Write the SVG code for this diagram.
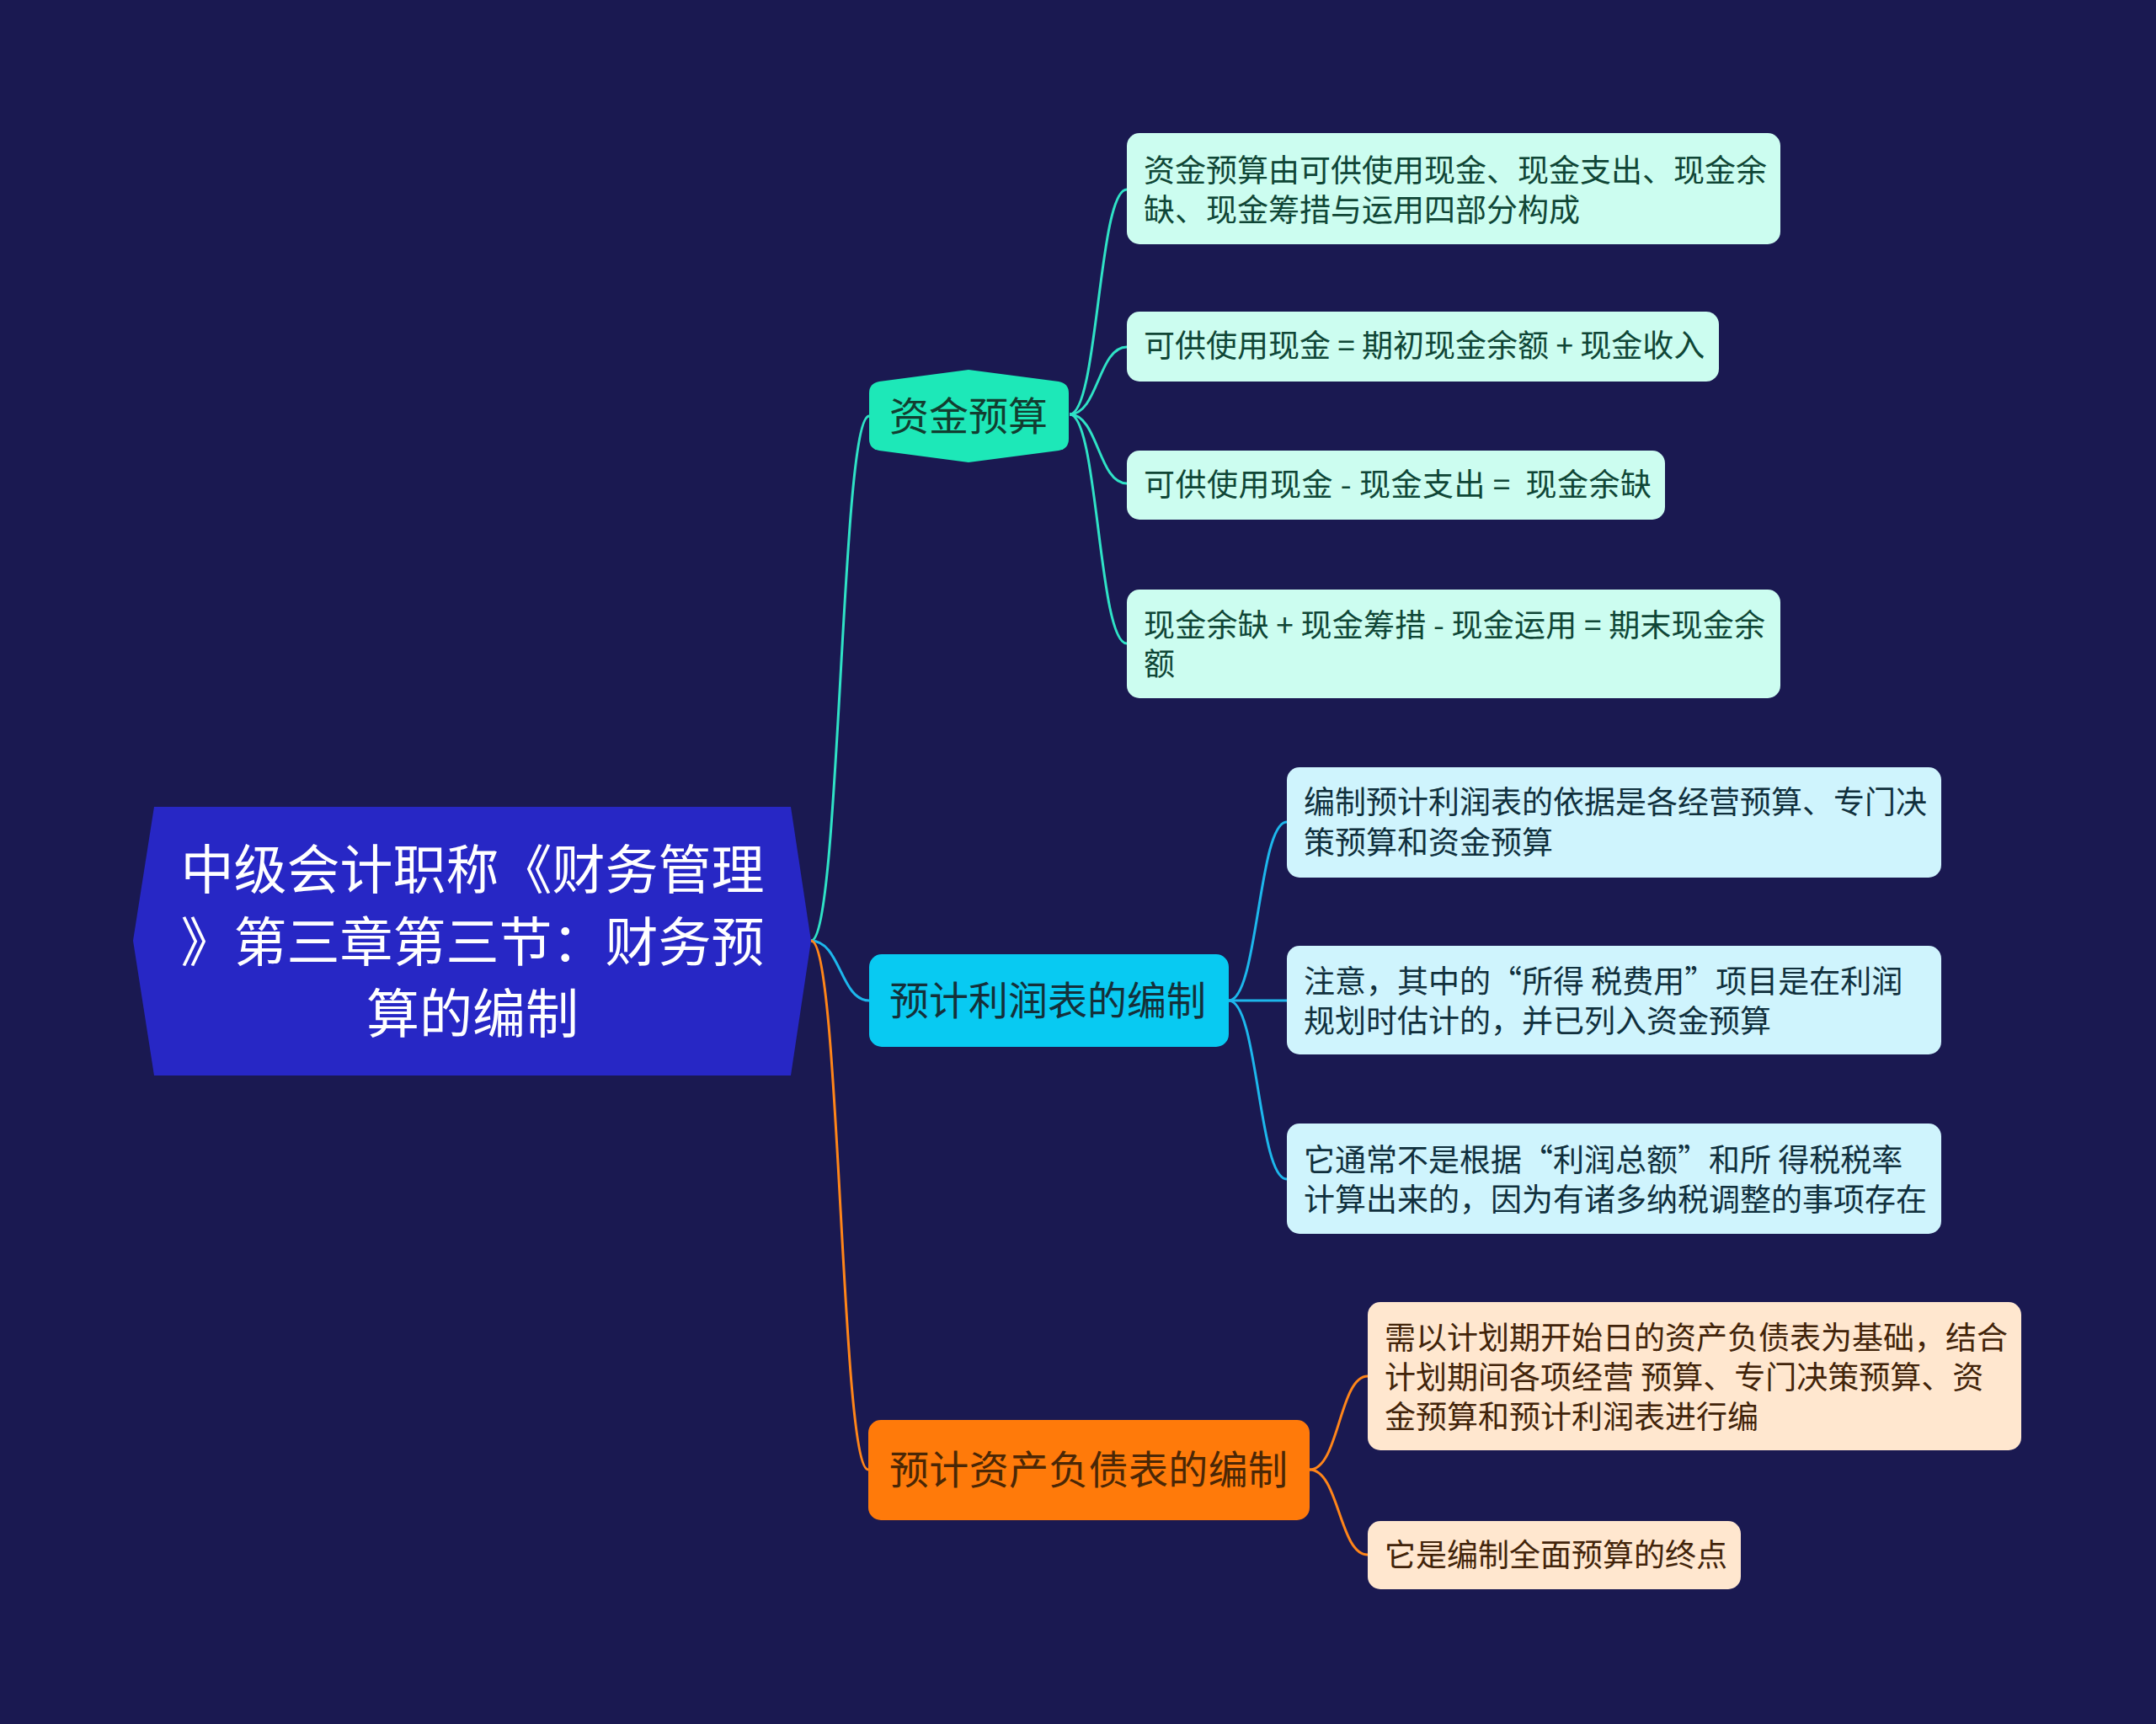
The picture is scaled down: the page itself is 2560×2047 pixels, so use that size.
<svg xmlns="http://www.w3.org/2000/svg" width="2560" height="2047" viewBox="0 0 2560 2047">
<style>
text{font-family:"Noto Sans CJK SC","Noto Sans",sans-serif;}
.root{fill:#ffffff;font-size:63px;text-anchor:middle;}
.l1{font-size:47px;}
.lf{font-size:37px;}
.c{fill:none;stroke-width:3;}
.ct{stroke:#2fe2c6;}
.cb{stroke:#1db7ec;}
.co{stroke:#ff8519;}
.leafT{fill:#ccfdf0;}
.leafB{fill:#cff4fd;}
.leafO{fill:#ffe7cf;}
.txT{fill:#0f4636;}
.txB{fill:#10303d;}
.txO{fill:#42240a;}
</style>
<rect x="0" y="0" width="2560" height="2047" fill="#1a1951"/>
<g id="connectors">
<path class="c ct" d="M963 1117 C998 1117,998 494,1032 494"/>
<path class="c cb" d="M963 1117 C998 1117,998 1188,1032 1188"/>
<path class="c co" d="M963 1117 C998 1117,998 1745,1031 1745"/>
<path class="c ct" d="M1270 492 C1304 492,1304 225,1338 225"/>
<path class="c ct" d="M1270 492 C1304 492,1304 412,1338 412"/>
<path class="c ct" d="M1270 492 C1304 492,1304 574,1338 574"/>
<path class="c ct" d="M1270 492 C1304 492,1304 764,1338 764"/>
<path class="c cb" d="M1459 1188 C1494 1188,1494 976,1528 976"/>
<path class="c cb" d="M1459 1188 L1528 1188"/>
<path class="c cb" d="M1459 1188 C1494 1188,1494 1400,1528 1400"/>
<path class="c co" d="M1555 1745 C1590 1745,1590 1634,1624 1634"/>
<path class="c co" d="M1555 1745 C1590 1745,1590 1846,1624 1846"/>
</g>
<g id="root">
<polygon points="158,1117 183,958 939,958 963,1117 939,1277 183,1277" fill="#2727c5"/>
<text class="root"><tspan x="561" y="1055">中级会计职称《财务管理</tspan><tspan x="561" y="1141">》第三章第三节：财务预</tspan><tspan x="561" y="1226">算的编制</tspan></text>
</g>
<g id="n1">
<path d="M1044 453 L1150 439 L1257 453 Q1269 455 1269 467 L1269 521 Q1269 533 1257 535 L1150 549 L1044 535 Q1032 533 1032 521 L1032 467 Q1032 455 1044 453 Z" fill="#1de8b8"/>
<text class="l1" x="1056" y="511" fill="#123d30">资金预算</text>
</g>
<g id="n2">
<rect x="1032" y="1133" width="427" height="110" rx="15" fill="#08caf2"/>
<text class="l1" x="1056" y="1205" fill="#14303a">预计利润表的编制</text>
</g>
<g id="n3">
<rect x="1031" y="1686" width="524" height="119" rx="15" fill="#ff7a0a"/>
<text class="l1" x="1056" y="1762" fill="#4a2706" textLength="473" lengthAdjust="spacing">预计资产负债表的编制</text>
</g>
<g id="n1a">
<rect x="1338" y="158" width="776" height="132" rx="15" class="leafT"/>
<text class="lf txT"><tspan x="1358" y="216">资金预算由可供使用现金、现金支出、现金余</tspan><tspan x="1358" y="263">缺、现金筹措与运用四部分构成</tspan></text>
</g>
<g id="n1b">
<rect x="1338" y="370" width="703" height="83" rx="15" class="leafT"/>
<text class="lf txT" x="1358" y="424" xml:space="preserve">可供使用现金 = 期初现金余额 + 现金收入</text>
</g>
<g id="n1c">
<rect x="1338" y="535" width="639" height="82" rx="15" class="leafT"/>
<text class="lf txT" x="1358" y="589" xml:space="preserve" textLength="603" lengthAdjust="spacing">可供使用现金 - 现金支出 =  现金余缺</text>
</g>
<g id="n1d">
<rect x="1338" y="700" width="776" height="129" rx="15" class="leafT"/>
<text class="lf txT" xml:space="preserve"><tspan x="1358" y="756" textLength="738" lengthAdjust="spacing">现金余缺 + 现金筹措 - 现金运用 = 期末现金余</tspan><tspan x="1358" y="802">额</tspan></text>
</g>
<g id="n2a">
<rect x="1528" y="911" width="777" height="131" rx="15" class="leafB"/>
<text class="lf txB"><tspan x="1548" y="966">编制预计利润表的依据是各经营预算、专门决</tspan><tspan x="1548" y="1014">策预算和资金预算</tspan></text>
</g>
<g id="n2b">
<rect x="1528" y="1123" width="777" height="129" rx="15" class="leafB"/>
<text class="lf txB"><tspan x="1548" y="1179">注意，其中的“所得 税费用”项目是在利润</tspan><tspan x="1548" y="1226">规划时估计的，并已列入资金预算</tspan></text>
</g>
<g id="n2c">
<rect x="1528" y="1334" width="777" height="131" rx="15" class="leafB"/>
<text class="lf txB"><tspan x="1548" y="1391">它通常不是根据“利润总额”和所 得税税率</tspan><tspan x="1548" y="1438">计算出来的，因为有诸多纳税调整的事项存在</tspan></text>
</g>
<g id="n3a">
<rect x="1624" y="1546" width="776" height="176" rx="15" class="leafO"/>
<text class="lf txO"><tspan x="1644" y="1602">需以计划期开始日的资产负债表为基础，结合</tspan><tspan x="1644" y="1649">计划期间各项经营 预算、专门决策预算、资</tspan><tspan x="1644" y="1696">金预算和预计利润表进行编</tspan></text>
</g>
<g id="n3b">
<rect x="1624" y="1806" width="443" height="81" rx="15" class="leafO"/>
<text class="lf txO" x="1644" y="1860">它是编制全面预算的终点</text>
</g>
</svg>
